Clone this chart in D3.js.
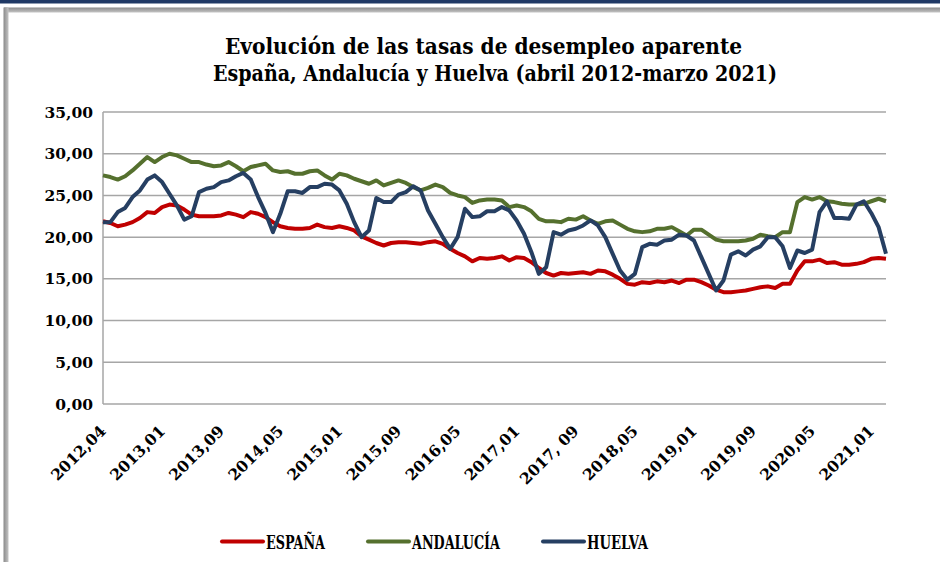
<!DOCTYPE html>
<html>
<head>
<meta charset="utf-8">
<script src="https://cdn.jsdelivr.net/npm/d3@7"></script>
<style>
  body { margin: 0; background: #fff; }
  svg text { font-family: "DejaVu Serif", serif; font-weight: bold; fill: #000; }
</style>
</head>
<body>
<div id="chart-container"></div>
<script>
// tick labels every 8 periods (first period is 2012,04)
const tickLabels = ["2012,04", "2013,01", "2013,09", "2014,05", "2015,01", "2015,09", "2016,05",
  "2017,01", "2017, 09", "2018,05", "2019,01", "2019,09", "2020,05", "2021,01"];

const espana = [
  21.9, 21.7, 21.3, 21.5, 21.8, 22.3, 23.0, 22.9, 23.6, 23.9,
  23.8, 23.3, 22.7, 22.5, 22.5, 22.5, 22.6, 22.9, 22.7, 22.4,
  23.0, 22.8, 22.4, 21.8, 21.3, 21.1, 21.0, 21.0, 21.1, 21.5,
  21.2, 21.1, 21.3, 21.1, 20.8, 20.1, 19.7, 19.3, 19.0, 19.3,
  19.4, 19.4, 19.3, 19.2, 19.4, 19.5, 19.2, 18.6, 18.1, 17.7,
  17.1, 17.5, 17.4, 17.5, 17.7, 17.2, 17.6, 17.5, 17.0, 16.3,
  15.7, 15.4, 15.7, 15.6, 15.7, 15.8, 15.6, 16.0, 15.9, 15.5,
  15.0, 14.4, 14.3, 14.6, 14.5, 14.7, 14.6, 14.8, 14.5, 14.9,
  14.9, 14.6, 14.2, 13.7, 13.4, 13.4, 13.5, 13.6, 13.8, 14.0,
  14.1, 13.9, 14.4, 14.4, 16.0, 17.1, 17.1, 17.3, 16.9, 17.0,
  16.7, 16.7, 16.8, 17.0, 17.4, 17.5, 17.4
];

const andalucia = [
  27.4, 27.2, 26.9, 27.3, 28.0, 28.8, 29.6, 29.0, 29.6, 30.0,
  29.8, 29.4, 29.0, 29.0, 28.7, 28.5, 28.6, 29.0, 28.5, 27.9,
  28.4, 28.6, 28.8, 28.0, 27.8, 27.9, 27.6, 27.6, 27.9, 28.0,
  27.4, 26.9, 27.6, 27.4, 27.0, 26.7, 26.4, 26.8, 26.2, 26.5,
  26.8, 26.5, 26.0, 25.6, 25.9, 26.3, 26.0, 25.3, 25.0, 24.8,
  24.1, 24.4, 24.5, 24.5, 24.4, 23.6, 23.8, 23.6, 23.1, 22.2,
  21.9, 21.9, 21.8, 22.2, 22.1, 22.5, 22.0, 21.6, 21.9, 22.0,
  21.5, 21.0, 20.7, 20.6, 20.7, 21.0, 21.0, 21.2, 20.7, 20.2,
  20.9, 20.9, 20.3, 19.7, 19.5, 19.5, 19.5, 19.6, 19.8, 20.3,
  20.1, 20.0, 20.6, 20.6, 24.2, 24.8, 24.5, 24.8, 24.3, 24.2,
  24.0, 23.9, 23.9, 24.0, 24.3, 24.6, 24.3
];

const huelva = [
  21.8, 21.8, 23.0, 23.5, 24.8, 25.6, 26.9, 27.4, 26.6, 25.2,
  23.8, 22.1, 22.5, 25.4, 25.8, 26.0, 26.6, 26.8, 27.3, 27.7,
  26.9, 24.8, 22.9, 20.6, 22.8, 25.5, 25.5, 25.3, 26.0, 26.0,
  26.4, 26.3, 25.6, 24.0, 21.8, 20.0, 20.8, 24.7, 24.2, 24.2,
  25.1, 25.4, 26.1, 25.6, 23.2, 21.6, 20.0, 18.6, 20.0, 23.4,
  22.4, 22.5, 23.1, 23.1, 23.6, 23.2, 22.0, 20.4, 18.2, 15.6,
  16.4, 20.6, 20.3, 20.8, 21.0, 21.4, 22.0, 21.4, 20.0, 18.0,
  16.0, 14.9, 15.6, 18.8, 19.2, 19.1, 19.6, 19.7, 20.3, 20.2,
  19.6, 17.6, 15.6, 13.6, 14.8, 17.9, 18.3, 17.8, 18.5, 18.9,
  20.0, 20.0, 18.9, 16.3, 18.4, 18.1, 18.5, 23.0, 24.3, 22.3,
  22.3, 22.2, 23.9, 24.3, 22.9, 21.2, 18.0
];

const series = [
  { name: "ESPAÑA", values: espana, color: "#c00000", textLen: 59 },
  { name: "ANDALUCÍA", values: andalucia, color: "#55702e", textLen: 88 },
  { name: "HUELVA", values: huelva, color: "#263f62", textLen: 61 }
];

const yTicks = [0, 5, 10, 15, 20, 25, 30, 35];

const width = 940, height = 562;
const plot = { left: 103, right: 886, top: 112, bottom: 404 };

const svg = d3.select("#chart-container").append("svg")
  .attr("width", width).attr("height", height);

// frame
const defs = svg.append("defs");
const gl = defs.append("linearGradient").attr("id", "gl").attr("x1", 0).attr("x2", 1).attr("y1", 0).attr("y2", 0);
gl.append("stop").attr("offset", 0).attr("stop-color", "#8a8a8a");
gl.append("stop").attr("offset", 1).attr("stop-color", "#c4c4c4");
const gt = defs.append("linearGradient").attr("id", "gt").attr("x1", 0).attr("x2", 0).attr("y1", 0).attr("y2", 1);
gt.append("stop").attr("offset", 0).attr("stop-color", "#8a8a8a");
gt.append("stop").attr("offset", 1).attr("stop-color", "#c4c4c4");

svg.append("rect").attr("x", 0).attr("y", 0).attr("width", width).attr("height", 3.5).attr("fill", "#1f3864");
svg.append("rect").attr("x", 4).attr("y", 7.5).attr("width", width - 4).attr("height", 5).attr("fill", "url(#gt)");
svg.append("rect").attr("x", 3.5).attr("y", 7.5).attr("width", 5).attr("height", height - 7.5).attr("fill", "url(#gl)");

// title (condensed serif look: squeeze to the reference widths)
const titleFont = "'DejaVu Serif Condensed', 'DejaVu Serif', serif";
svg.append("text").attr("x", 483.5).attr("y", 54).attr("text-anchor", "middle")
  .style("font-family", titleFont)
  .attr("font-size", 23).attr("textLength", 517).attr("lengthAdjust", "spacingAndGlyphs")
  .text("Evolución de las tasas de desempleo aparente");
svg.append("text").attr("x", 495).attr("y", 81).attr("text-anchor", "middle")
  .style("font-family", titleFont)
  .attr("font-size", 23).attr("textLength", 564).attr("lengthAdjust", "spacingAndGlyphs")
  .text("España, Andalucía y Huelva (abril 2012-marzo 2021)");

const x = d3.scaleLinear().domain([0, espana.length - 1]).range([plot.left, plot.right]);
const y = d3.scaleLinear().domain([0, 35]).range([plot.bottom, plot.top]);

// gridlines
svg.append("g").selectAll("line").data(yTicks.filter(d => d > 0)).join("line")
  .attr("x1", plot.left).attr("x2", plot.right)
  .attr("y1", d => y(d)).attr("y2", d => y(d))
  .attr("stroke", "#a6a6a6").attr("stroke-width", 1.5);

// axes lines
svg.append("line").attr("x1", plot.left).attr("x2", plot.left).attr("y1", plot.top).attr("y2", plot.bottom)
  .attr("stroke", "#a6a6a6").attr("stroke-width", 1.5);
svg.append("line").attr("x1", plot.left).attr("x2", plot.right).attr("y1", plot.bottom).attr("y2", plot.bottom)
  .attr("stroke", "#a6a6a6").attr("stroke-width", 1.5);

// y labels
const fmt = d => d.toFixed(2).replace(".", ",");
svg.append("g").selectAll("text").data(yTicks).join("text")
  .attr("x", 93).attr("y", d => y(d)).attr("dy", "0.36em")
  .attr("text-anchor", "end").attr("font-size", 15.5)
  .text(fmt);

// x labels
svg.append("g").selectAll("text").data(tickLabels).join("text")
  .attr("text-anchor", "end").attr("font-size", 15.5)
  .attr("transform", (d, i) => `translate(${x(i * 8) + 4},432) rotate(-45)`)
  .text(d => d);

// lines
const line = d3.line().x((d, i) => x(i)).y(d => y(d));
svg.append("g").selectAll("path").data(series).join("path")
  .attr("d", d => line(d.values))
  .attr("fill", "none")
  .attr("stroke", d => d.color)
  .attr("stroke-width", 4)
  .attr("stroke-linejoin", "round");

// legend
const legendX = [222, 368, 543];
const legend = svg.append("g").selectAll("g").data(series).join("g")
  .attr("transform", (d, i) => `translate(${legendX[i]},541.5)`);
legend.append("line").attr("x1", 0).attr("x2", 41)
  .attr("stroke", d => d.color).attr("stroke-width", 4).attr("stroke-linecap", "round");
legend.append("text").attr("x", 44).attr("y", 7)
  .style("font-family", titleFont)
  .attr("font-size", 19)
  .attr("textLength", d => d.textLen).attr("lengthAdjust", "spacingAndGlyphs")
  .text(d => d.name);
</script>
</body>
</html>
